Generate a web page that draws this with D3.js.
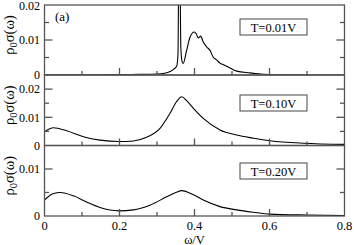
<!DOCTYPE html>
<html><head><meta charset="utf-8">
<script src="https://cdn.jsdelivr.net/npm/d3@7"></script>
<style>body{margin:0;background:#fff}svg{display:block}</style>
</head><body><svg id="c" width="354" height="245" font-family="Liberation Serif, Times New Roman, DejaVu Serif, serif"></svg>
<script>
// ---- data ----
const labels = ["T=0.01V", "T=0.10V", "T=0.20V"];
const xTicks = [0, 0.2, 0.4, 0.6, 0.8];
const xTickLabels = ["0", "0.2", "0.4", "0.6", "0.8"];
const yMax = [0.02, 0.025, 0.015];
const yTickLabels = [["0", "0.01", "0.02"], ["0", "0.01", "0.02"], ["0", "0.01"]];

const w1 = [0, 0.1, 0.2, 0.25, 0.3, 0.32, 0.335, 0.345, 0.3525, 0.356, 0.358, 0.361, 0.3635, 0.367, 0.370, 0.379, 0.388, 0.399, 0.405, 0.41, 0.4165, 0.4235, 0.4325, 0.441, 0.45, 0.459, 0.468, 0.477, 0.495, 0.5125, 0.548, 0.583, 0.62, 0.7, 0.8];
const s1 = [0, 0.00005, 0.0001, 0.0002, 0.0003, 0.0005, 0.001, 0.0017, 0.0025, 0.006, 0.03, 0.03, 0.008, 0.0038, 0.0033, 0.007, 0.0108, 0.0123, 0.0117, 0.0106, 0.0111, 0.0094, 0.008, 0.0071, 0.0051, 0.0043, 0.0034, 0.0029, 0.002, 0.0011, 0.0006, 0.0002, 0.00005, 0, 0];

const w2 = [0, 0.024, 0.059, 0.104, 0.148, 0.199, 0.237, 0.272, 0.308, 0.335, 0.352, 0.366, 0.379, 0.397, 0.4235, 0.468, 0.5125, 0.557, 0.601, 0.69, 0.8];
const s2 = [0.0049, 0.0063, 0.0052, 0.0031, 0.0019, 0.0014, 0.0016, 0.0029, 0.0061, 0.0115, 0.0155, 0.0173, 0.0159, 0.0132, 0.0096, 0.0055, 0.0037, 0.0026, 0.0017, 0.0008, 0.0004];

const w3 = [0, 0.024, 0.042, 0.077, 0.112, 0.148, 0.199, 0.237, 0.281, 0.326, 0.35, 0.366, 0.397, 0.4235, 0.468, 0.5125, 0.557, 0.601, 0.7, 0.8];
const s3 = [0.0034, 0.0048, 0.005, 0.0043, 0.003, 0.0018, 0.0011, 0.0013, 0.0023, 0.0041, 0.005, 0.0054, 0.0045, 0.0034, 0.002, 0.0013, 0.0008, 0.0004, 0.0002, 0.0001];

const series = [[w1, s1], [w2, s2], [w3, s3]];

// ---- layout ----
const svg = d3.select("#c");
const L = 44.5, R = 344.5;
const bands = [[5, 75], [75, 145.5], [145.5, 216]];
const x = d3.scaleLinear().domain([0, 0.8]).range([L, R]);
const axisCol = "#555";

bands.forEach((b, i) => {
  const y = d3.scaleLinear().domain([0, yMax[i]]).range([b[1], b[0]]);
  const g = svg.append("g");
  const cid = "clip" + i;
  svg.append("clipPath").attr("id", cid).append("rect")
    .attr("x", L).attr("y", b[0]).attr("width", R - L).attr("height", b[1] - b[0]);

  const [ws, ss] = series[i];
  const data = ws.map((w, k) => [w, ss[k]]);
  g.append("path").datum(data)
    .attr("clip-path", "url(#" + cid + ")")
    .attr("fill", "none").attr("stroke", "#000").attr("stroke-width", 1.1)
    .attr("d", d3.line().x(d => x(d[0])).y(d => y(d[1])).curve(d3.curveMonotoneX));

  g.append("rect").attr("x", L).attr("y", b[0]).attr("width", R - L).attr("height", b[1] - b[0])
    .attr("fill", "none").attr("stroke", axisCol).attr("stroke-width", 1.3);

  const step = 0.005;
  const n = Math.round(yMax[i] / step);
  for (let k = 0; k <= n; k++) {
    const v = k * step;
    const major = k % 2 === 0;
    const len = major ? 8 : 4.5;
    const yy = y(v);
    if (k === 0 || Math.abs(yy - b[0]) < 0.5) continue;
    g.append("line").attr("x1", L).attr("x2", L + len).attr("y1", yy).attr("y2", yy)
      .attr("stroke", axisCol).attr("stroke-width", 1.3);
    g.append("line").attr("x1", R).attr("x2", R - len).attr("y1", yy).attr("y2", yy)
      .attr("stroke", axisCol).attr("stroke-width", 1.3);
  }
  yTickLabels[i].forEach((t, k) => {
    g.append("text").attr("x", 40).attr("y", Math.max(y(k * 0.01), 5.5)).attr("dy", "0.35em")
      .attr("text-anchor", "end").attr("font-size", 12).text(t);
  });

  d3.range(1, 8).forEach(k => {
    const v = k * 0.1;
    const len = k % 2 === 0 ? 7 : 4;
    g.append("line").attr("x1", x(v)).attr("x2", x(v)).attr("y1", b[1]).attr("y2", b[1] - len)
      .attr("stroke", axisCol).attr("stroke-width", 1.3);
  });

  const bx = 240, bw = 67, by = [19, 95, 163][i], bh = 16;
  g.append("rect").attr("x", bx).attr("y", by).attr("width", bw).attr("height", bh)
    .attr("fill", "#fff").attr("stroke", "#444").attr("stroke-width", 1);
  g.append("text").attr("x", bx + bw / 2).attr("y", by + bh / 2).attr("dy", "0.36em")
    .attr("text-anchor", "middle").attr("font-size", 12.5).text(labels[i]);

  const yl = g.append("text").attr("transform", `translate(13.5,${(b[0] + b[1]) / 2 - 5}) rotate(-90)`)
    .attr("text-anchor", "middle").attr("font-size", 14.5);
  yl.append("tspan").text("ρ");
  yl.append("tspan").attr("font-size", 10.5).attr("dy", 3.5).text("0");
  yl.append("tspan").attr("dy", -3.5).text("σ(ω)");
});

svg.append("text").attr("x", 55).attr("y", 21).attr("font-size", 13).text("(a)");

xTicks.forEach((v, k) => {
  svg.append("text").attr("x", x(v)).attr("y", 230).attr("text-anchor", "middle")
    .attr("font-size", 12.5).text(xTickLabels[k]);
});
svg.append("text").attr("x", x(0.4)).attr("y", 243.5).attr("text-anchor", "middle")
  .attr("font-size", 12.5).text("ω/V");
</script></body></html>
